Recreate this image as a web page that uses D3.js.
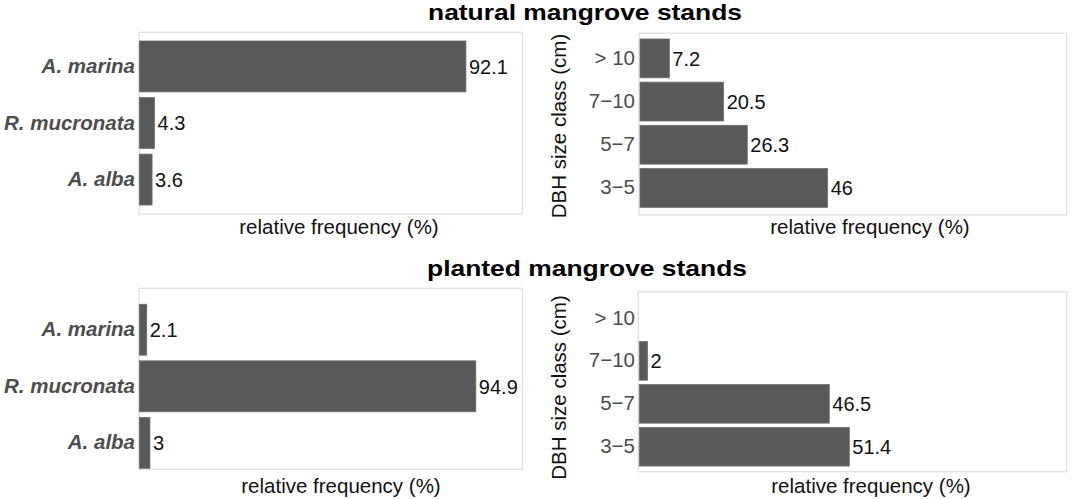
<!DOCTYPE html>
<html>
<head>
<meta charset="utf-8">
<script src="https://cdn.jsdelivr.net/npm/d3@7"></script>
<style>
  body { margin: 0; background: #fff; }
  text { font-family: "Liberation Sans", Arial, sans-serif; }
</style>
</head>
<body>
<div id="chart"></div>
<script>
// data
var speciesCats = ["A. marina", "R. mucronata", "A. alba"];
var naturalSpecies = [92.1, 4.3, 3.6];
var plantedSpecies = [2.1, 94.9, 3];
var dbhCats = ["> 10", "7\u221210", "5\u22127", "3\u22125"];
var naturalDbh = [7.2, 20.5, 26.3, 46];
var plantedDbh = [null, 2, 46.5, 51.4];
var titles = ["natural mangrove stands", "planted mangrove stands"];

var width = 1072, height = 499;

var svg = d3.select("#chart")
  .append("svg")
    .attr("width", width)
    .attr("height", height);

// titles (the source glyphs are wider than their height, so stretch them)
svg.append("text")
  .attr("x", 428).attr("y", 20)
  .attr("textLength", 314).attr("lengthAdjust", "spacingAndGlyphs")
  .style("font-size", "22px").style("font-weight", "bold")
  .text(titles[0]);
svg.append("text")
  .attr("x", 427).attr("y", 275.5)
  .attr("textLength", 320).attr("lengthAdjust", "spacingAndGlyphs")
  .style("font-size", "22px").style("font-weight", "bold")
  .text(titles[1]);

function panel(opts) {
  var cats = opts.cats, vals = opts.vals;
  var g = svg.append("g");

  var x = d3.scaleLinear()
    .domain([0, opts.xmax])
    .range(opts.xr);
  var y = d3.scaleBand()
    .domain(cats)
    .range(opts.yr)
    .paddingInner(0.1)
    .paddingOuter(0.15);

  // panel border
  var b = opts.box;
  g.append("rect")
    .attr("x", b[0]).attr("y", b[1])
    .attr("width", b[2] - b[0])
    .attr("height", b[3] - b[1])
    .attr("fill", "none")
    .attr("stroke", "#e0e0e0")
    .attr("stroke-width", 1.3);

  var rows = cats.map(function(c, i) { return {cat: c, v: vals[i]}; })
    .filter(function(d) { return d.v != null; });

  g.selectAll(".bar")
    .data(rows)
    .enter()
    .append("rect")
      .attr("x", x(0))
      .attr("y", function(d) { return y(d.cat); })
      .attr("width", function(d) { return x(d.v) - x(0); })
      .attr("height", y.bandwidth())
      .attr("fill", "#595959")
      .attr("stroke", "#707070")
      .attr("stroke-width", 0.8);

  g.selectAll(".lab")
    .data(rows)
    .enter()
    .append("text")
      .attr("x", function(d) { return x(d.v) + 3; })
      .attr("y", function(d) { return y(d.cat) + y.bandwidth() / 2; })
      .attr("dy", "0.36em")
      .style("font-size", "20px")
      .attr("fill", "#111")
      .text(function(d) { return d.v; });

  // y axis (labels only)
  var ax = g.append("g")
    .attr("transform", "translate(" + opts.tickX + ",0)")
    .call(d3.axisLeft(y).tickSize(0).tickPadding(0));
  ax.select(".domain").remove();
  ax.selectAll("text")
    .style("font-size", "20.5px")
    .style("font-family", "'Liberation Sans', Arial, sans-serif")
    .style("font-weight", opts.italic ? "bold" : "normal")
    .style("font-style", opts.italic ? "italic" : "normal")
    .attr("fill", "#4d4d4d");

  // x axis title
  g.append("text")
    .attr("x", opts.xtX)
    .attr("y", opts.xtY)
    .attr("text-anchor", "middle")
    .style("font-size", "20.5px")
    .attr("fill", "#111")
    .text("relative frequency (%)");

  if (opts.ytitle) {
    g.append("text")
      .attr("transform", "translate(566," + opts.ytY + ") rotate(-90)")
      .attr("text-anchor", "middle")
      .style("font-size", "20.5px")
      .attr("fill", "#111")
      .text(opts.ytitle);
  }
}

panel({cats: speciesCats, vals: naturalSpecies, xmax: 108, xr: [139.3, 522.3], yr: [32.5, 213.5],
       box: [139, 32.3, 522.3, 214], tickX: 135, italic: true, xtX: 339, xtY: 233.5});
panel({cats: dbhCats, vals: naturalDbh, xmax: 104.6, xr: [640, 1066.7], yr: [32.5, 213.8],
       box: [639, 33.3, 1066.7, 215], tickX: 635, xtX: 870, xtY: 233.5,
       ytitle: "DBH size class (cm)", ytY: 126});
panel({cats: speciesCats, vals: plantedSpecies, xmax: 108, xr: [139.3, 522.3], yr: [295.8, 476.8],
       box: [139, 288.3, 522.3, 469.3], tickX: 135, italic: true, xtX: 341, xtY: 493.3});
panel({cats: dbhCats, vals: plantedDbh, xmax: 104.6, xr: [639.3, 1066.7], yr: [292.2, 472.5],
       box: [638.3, 291.7, 1066.7, 471.7], tickX: 635, xtX: 871, xtY: 493.3,
       ytitle: "DBH size class (cm)", ytY: 387.5});
</script>
</body>
</html>
